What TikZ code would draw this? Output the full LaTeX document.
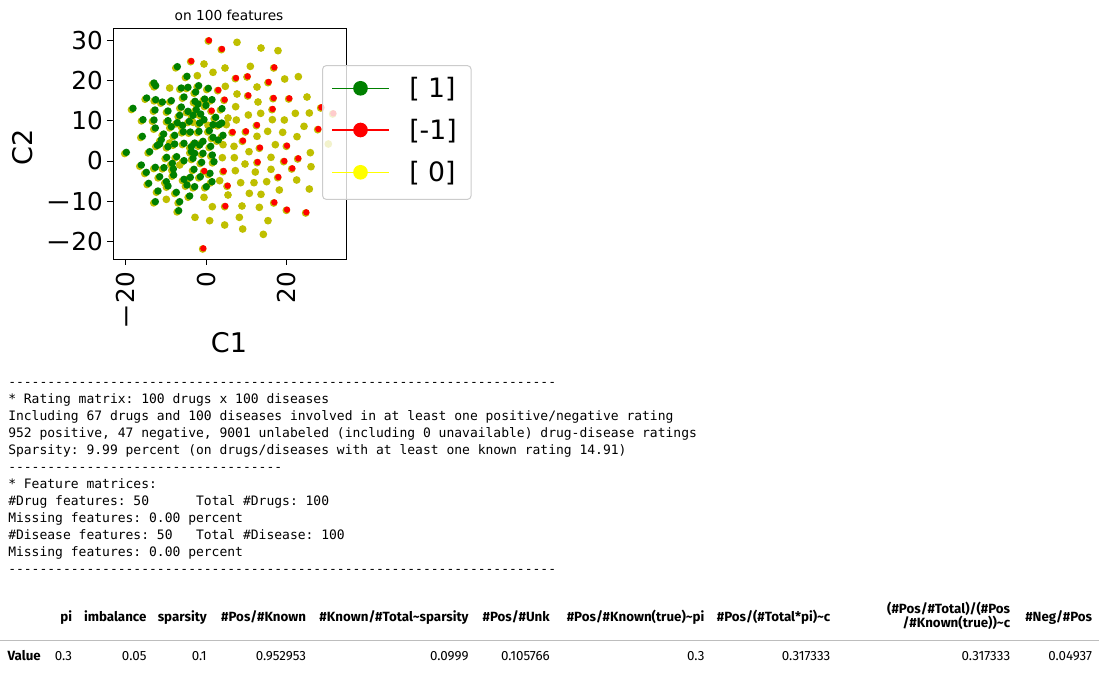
\documentclass[tikz,border=0pt]{standalone}
\usepackage{fontspec}
\setmainfont{DejaVu Sans}
\setmonofont{DejaVu Sans Mono}
\newfontfamily\tablefont{Fira Sans}

\definecolor{dotgreen}{HTML}{008000}
\definecolor{dotred}{HTML}{FF0000}
\definecolor{dotolive}{HTML}{BFBF00}
\definecolor{dotyellow}{HTML}{FFFF00}
\definecolor{legendedge}{HTML}{CCCCCC}
\definecolor{rulegray}{HTML}{BDBDBD}

\newcommand{\mminus}{\scalebox{1.25}[1]{−}}

\tikzset{
  ticklabel/.style={font=\fontsize{18.5}{22}\selectfont, inner sep=0pt},
  axislabel/.style={font=\fontsize{20.3}{24}\selectfont, inner sep=0pt},
  legendlabel/.style={font=\fontsize{20}{24}\selectfont, inner sep=0pt, anchor=west},
  codeline/.style={font=\ttfamily\frenchspacing\fontsize{9.75}{12.75}\selectfont, inner sep=0pt, anchor=base west},
  colhead/.style={font=\tablefont\bfseries\fontsize{10}{12}\selectfont, inner sep=0pt, anchor=base east},
  cellval/.style={font=\tablefont\fontsize{10}{12}\selectfont, inner sep=0pt, anchor=base east}
}

% points, in thirds of a pixel
\newcommand{\greenpts}{532/200,561/229,462/249,467/257,544/264,564/262,596/257,625/265,
  440/294,467/299,487/306,514/302,552/291,587/276,585/304,614/297,636/299,
  399/325,465/330,504/333,544/321,564/334,594/312,589/329,666/326,
  429/359,462/360,504/362,539/346,579/346,612/359,647/352,665/369,
  466/384,514/380,548/376,599/369,639/374,657/374,
  491/402,524/406,571/396,597/394,639/412,669/406,
  427/409,484/419,552/430,584/429,609/424,632/439,472/436,
  379/457,449/455,479/432,504/440,524/432,574/440,599/435,
  424/495,466/502,492/503,517/490,552/482,579/475,584/460,609/460,637/465,
  500/472,530/470,
  582/508,439/517,479/530,499/545,521/525,552/538,571/532,601/530,636/545,
  446/550,474/573,504/558,529/577,561/555,584/560,619/560,
  466/605,539/605,569/588,536/632,
  602/342,618/316,532/368,568/364,550/395,628/392,655/420,574/455,520/507,605/487,642/485,630/520}
\newcommand{\yellowpts}{612/192,639/217,675/204,592/227,509/264,676/259,684/354,679/374,579/367,624/376,509/429,669/434,
  667/473,539/495,659/542,684/585,499/598,612/592,637/620,585/652,629/662,674/675,
  711/127,783/144,834/152,751/199,854/237,895/230,771/261,711/282,774/306,921/291,707/320,745/345,
  782/340,853/360,886/340,928/339,709/360,817/359,912/379,803/394,848/397,891/410,771/409,826/434,702/439,
  747/455,931/458,703/473,735/492,813/472,933/500,706/512,766/516,813/508,722/548,762/548,800/545,
  890/540,748/580,783/583,838/570,928/567,726/618,778/622,718/652,804/662,728/687,790/703,
  985/432}
\newcommand{\redpts}{627/121,666/147,574/183,823/202,708/234,743/229,806/246,655/270,821/294,868/295,
  674/299,745/286,818/327,964/322,635/332,698/396,771/375,955/387,738/394,729/422,780/443,861/437,
  773/486,853/483,895/475,877/505,835/531,683/557,823/607,861/629,919/637,676/618,613/513,671/513,
  610/745,1000/340}

\begin{document}
\begin{tikzpicture}[x=0.75pt,y=-0.75pt]
  \fill[white] (0,0) rectangle (1114,675);
  \useasboundingbox (0,0) rectangle (1114,675);

  \begin{scope}[x=0.25pt,y=-0.25pt]
    \foreach \px/\py in \greenpts
      \fill[dotolive] ({\px-5},{\py+4}) circle[radius=2.8pt];
    \foreach \px/\py in \redpts
      \fill[dotolive] ({\px-2},{\py+2}) circle[radius=2.9pt];
    \foreach \px/\py in \yellowpts
      \fill[dotolive] (\px,\py) circle[radius=2.9pt];
    \foreach \px/\py in \greenpts
      \fill[dotgreen] (\px,\py) circle[radius=2.8pt];
    \foreach \px/\py in \redpts
      \fill[dotred] (\px,\py) circle[radius=2.4pt];
  \end{scope}

  \draw[line width=0.75pt] (113,28) rectangle (346,259);
  \foreach \v/\t in {30/30,20/20,10/10,0/0,-10/\mminus10,-20/\mminus20} {
    \draw[line width=0.75pt] (113,{161-4.02*\v}) -- ++(-6,0);
    \node[ticklabel,anchor=east] (yt\v) at (103,{161-4.02*\v}) {\t};
  }
  \foreach \v/\t in {-20/\mminus20,0/0,20/20} {
    \draw[line width=0.75pt] ({206.3+4.02*\v},259) -- ++(0,6);
    \node[ticklabel,rotate=90,anchor=east] (xt\v) at ({206.3+4.02*\v},272) {\t};
  }
  \node[axislabel] (xlab) at (229,343) {C1};
  \node[axislabel,rotate=90] (ylab) at (23,147) {C2};
  \node[font=\fontsize{10.3}{12}\selectfont, inner sep=0pt] (title) at (229,15) {on 100 features};

  \draw[legendedge, fill=white, fill opacity=0.8, rounded corners=2.5pt, line width=0.75pt]
    (322.7,65.7) rectangle (471,199.3);
  \foreach \c/\yy/\t [count=\i] in {dotgreen/88.3/{[ 1]},dotred/130/{[-1]},dotyellow/172.3/{[ 0]}} {
    \draw[\c, line width=1.1pt] (332,\yy) -- (388.7,\yy);
    \fill[\c] (360.5,\yy) circle[radius=5.5pt];
    \node[legendlabel] (leg\i) at (409,{\yy+1}) {\t};
  }

  \node[codeline] (rulea) at (8,386) {----------------------------------------------------------------------};
  \node[codeline] (rating) at (8,403) {* Rating matrix: 100 drugs x 100 diseases};
  \node[codeline] (involved) at (8,420) {Including 67 drugs and 100 diseases involved in at least one positive/negative rating};
  \node[codeline] (counts) at (8,437) {952 positive, 47 negative, 9001 unlabeled (including 0 unavailable) drug-disease ratings};
  \node[codeline] (sparsity) at (8,454) {Sparsity: 9.99 percent (on drugs/diseases with at least one known rating 14.91)};
  \node[codeline] (ruleb) at (8,471) {-----------------------------------};
  \node[codeline] (features) at (8,488) {* Feature matrices:};
  \node[codeline] (drugfeat) at (8,505) {\#Drug features: 50~~~~~~Total \#Drugs: 100};
  \node[codeline] (drugmiss) at (8,522) {Missing features: 0.00 percent};
  \node[codeline] (disfeat) at (8,539) {\#Disease features: 50~~~Total \#Disease: 100};
  \node[codeline] (dismiss) at (8,556) {Missing features: 0.00 percent};
  \node[codeline] (rulec) at (8,573) {----------------------------------------------------------------------};

  \node[colhead] (hpi) at (72.3,621.5) {pi};
  \node[colhead] (himb) at (146.7,621.5) {imbalance};
  \node[colhead] (hspar) at (207,621.5) {sparsity};
  \node[colhead] (hposknown) at (306.4,621.5) {\#Pos/\#Known};
  \node[colhead] (hknowntotal) at (468.9,621.5) {\#Known/\#Total\textasciitilde sparsity};
  \node[colhead] (hposunk) at (550,621.5) {\#Pos/\#Unk};
  \node[colhead] (hpitrue) at (704.7,621.5) {\#Pos/\#Known(true)\textasciitilde pi};
  \node[colhead] (hctotal) at (830.6,621.5) {\#Pos/(\#Total*pi)\textasciitilde c};
  \node[colhead] (hcratio) at (1010.4,613) {(\#Pos/\#Total)/(\#Pos};
  \node[colhead] (hcratiob) at (1010.4,627.5) {/\#Known(true))\textasciitilde c};
  \node[colhead] (hnegpos) at (1092.4,621.5) {\#Neg/\#Pos};

  \coordinate (rulel) at (0,640.7);
  \coordinate (ruler) at (1099,640.7);
  \draw[rulegray, line width=0.75pt] (rulel) -- (ruler);

  \node[colhead, anchor=base west] (rowname) at (7.3,660) {Value};
  \node[cellval] (vpi) at (72.3,660) {0.3};
  \node[cellval] (vimb) at (146.7,660) {0.05};
  \node[cellval] (vspar) at (207,660) {0.1};
  \node[cellval] (vposknown) at (306.4,660) {0.952953};
  \node[cellval] (vknowntotal) at (468.9,660) {0.0999};
  \node[cellval] (vposunk) at (550,660) {0.105766};
  \node[cellval] (vpitrue) at (704.7,660) {0.3};
  \node[cellval] (vctotal) at (830.6,660) {0.317333};
  \node[cellval] (vcratio) at (1010.4,660) {0.317333};
  \node[cellval] (vnegpos) at (1092.4,660) {0.04937};
\end{tikzpicture}
\end{document}
